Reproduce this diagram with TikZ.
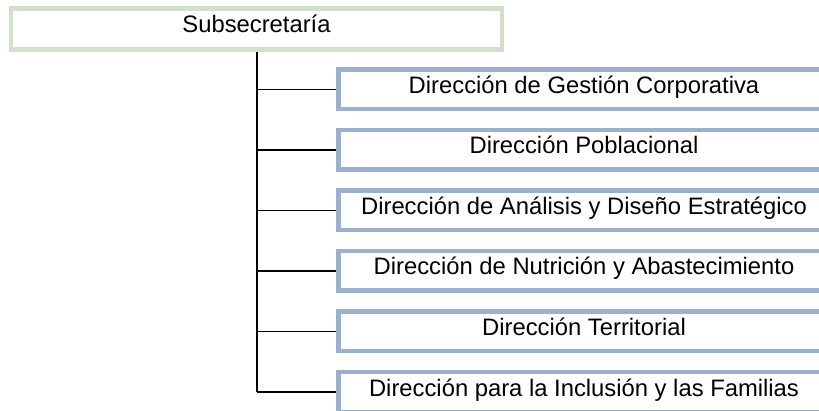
\documentclass[tikz,border=0pt]{standalone}
\usepackage{fontspec}
\setmainfont{Liberation Sans}
\usepackage{tikz}
\usepackage{xcolor}

\definecolor{subgreen}{RGB}{211,224,204}
\definecolor{dirblue}{RGB}{155,176,205}

\tikzset{
    subbox/.style={draw=subgreen, line width=4.5pt, fill=white, minimum width=491pt, minimum height=41pt,
        text height=14pt, text depth=6pt, inner sep=0pt, font=\fontsize{23.8}{28}\selectfont},
    dirbox/.style={draw=dirblue, line width=4.5pt, fill=white, minimum width=491pt, minimum height=39.5pt,
        text height=14pt, text depth=6pt, inner sep=0pt, font=\fontsize{23.8}{28}\selectfont},
    branch/.style={line width=1.8pt, black}
}

\begin{document}
\begin{tikzpicture}[x=1pt,y=-1pt]
        \clip (0,0) rectangle (819,411); % page size of the reference
        \node[subbox] (sub) at (256.5,29) {Subsecretaría};
        \foreach \i/\txt in {1/{Dirección de Gestión Corporativa},
                             2/{Dirección Poblacional},
                             3/{Dirección de Análisis y Diseño Estratégico},
                             4/{Dirección de Nutrición y Abastecimiento},
                             5/{Dirección Territorial},
                             6/{Dirección para la Inclusión y las Familias}}
        \node[dirbox] (d\i) at (584,{89.5+(\i-1)*60.5}) {\txt};
        \coordinate (trunk) at (257,50);
        \draw[line width=2pt] (sub.south -| trunk) -- (trunk |- d6.west);
        \foreach \i in {1,...,6} % one branch per dirección
        \draw[branch] (trunk |- d\i.west) -- (d\i.west);
    \end{tikzpicture}
\end{document}
